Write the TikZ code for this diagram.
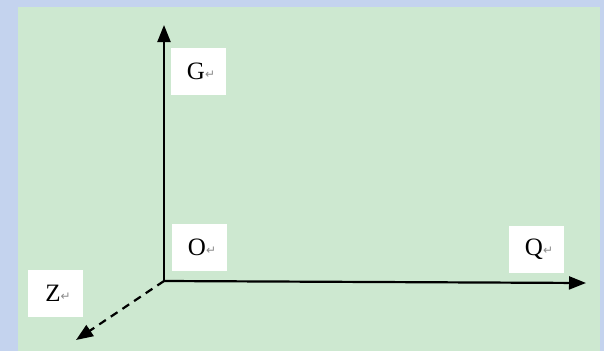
\documentclass[tikz,border=0pt]{standalone}
\usepackage{fontspec}
\setmainfont{Liberation Serif}
\newfontfamily\symfont{DejaVu Sans}
\usetikzlibrary{arrows.meta}
\definecolor{bgblue}{RGB}{196,211,238}
\definecolor{panelgreen}{RGB}{205,232,208}
\definecolor{markgray}{RGB}{140,140,140}
\newcommand{\pmark}{\textcolor{markgray}{\symfont\fontsize{12}{12}\selectfont\raisebox{1pt}{↵}}}
\begin{document}
\begin{tikzpicture}[x=1pt,y=-1pt,
  labelbox/.style={fill=white,inner sep=0pt,minimum width=55pt,minimum height=47pt,font=\fontsize{25}{25}\selectfont},
  axis/.style={line width=2.2pt,-{Triangle[length=17pt,width=13pt]}}]
\useasboundingbox (0,0) rectangle (604,351);
\fill[bgblue] (0,0) rectangle (604,351);
\fill[panelgreen] (18,7) rectangle (600,351);
\coordinate (O) at (164,281);
\coordinate (Gt) at (164,25);
\coordinate (Qt) at (586,283);
\coordinate (Zt) at (76,340);
\node[labelbox] (G) at (198.5,71.5) {\kern5pt G\pmark};
\node[labelbox] (Olab) at (199.5,247) {\kern5pt O\pmark};
\node[labelbox] (Q) at (536.5,249) {\kern5pt Q\pmark};
\node[labelbox] (Z) at (55.5,293.5) {\kern5pt Z\pmark};
\draw[axis] (O) -- (Gt);
\draw[axis] (O) -- (Qt);
\draw[axis,dash pattern=on 8pt off 6pt] (O) -- (Zt);
\end{tikzpicture}
\end{document}
